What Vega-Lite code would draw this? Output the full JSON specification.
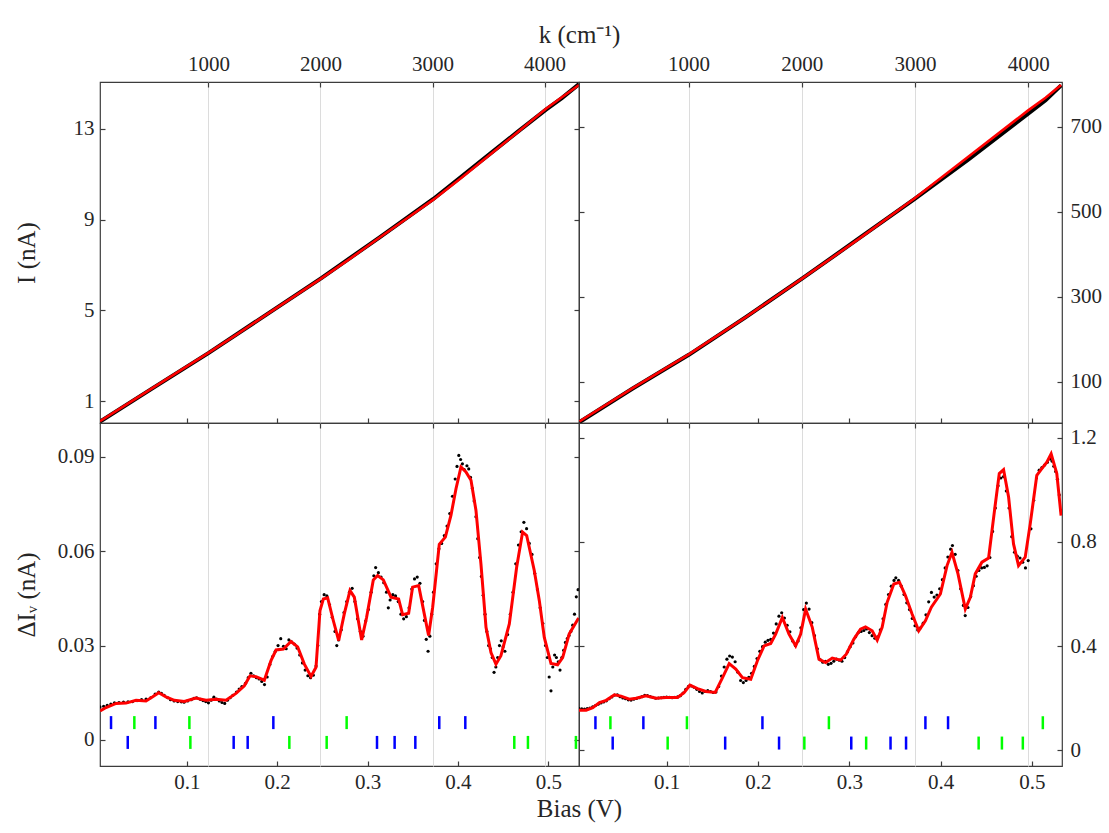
{
  "$schema": "https://vega.github.io/schema/vega-lite/v6.json",
  "background": "white",
  "padding": {"left": 13, "top": 21, "right": 5, "bottom": 5},
  "columns": 2,
  "spacing": 0,
  "bounds": "flush",
  "config": {
    "view": {"stroke": "#3c3c3c", "strokeWidth": 1.2},
    "axis": {
      "labelFont": "Liberation Serif", "titleFont": "Liberation Serif",
      "labelFontSize": 21, "titleFontSize": 25, "titleFontWeight": "normal",
      "labelColor": "#262626", "titleColor": "#262626",
      "tickColor": "#3c3c3c", "tickSize": -5, "tickWidth": 1.2,
      "domain": false, "grid": false, "labelPadding": 11, "format": ".2~f"
    }
  },
  "datasets": {
    "topL_fit": [
      {"V": 0.004, "I": 0.11}, {"V": 0.03, "I": 0.76}, {"V": 0.0624, "I": 1.58}, {"V": 0.093, "I": 2.35},
      {"V": 0.1239, "I": 3.12}, {"V": 0.155, "I": 3.93}, {"V": 0.1877, "I": 4.80}, {"V": 0.22, "I": 5.65},
      {"V": 0.2489, "I": 6.41}, {"V": 0.28, "I": 7.26}, {"V": 0.313, "I": 8.20}, {"V": 0.343, "I": 9.04},
      {"V": 0.3728, "I": 9.88}, {"V": 0.404, "I": 10.85}, {"V": 0.4347, "I": 11.84}, {"V": 0.466, "I": 12.85},
      {"V": 0.4971, "I": 13.88}, {"V": 0.515, "I": 14.40}, {"V": 0.534, "I": 14.94}
    ],
    "topL_data": [
      {"V": 0.004, "I": 0.09}, {"V": 0.0624, "I": 1.57}, {"V": 0.1239, "I": 3.11}, {"V": 0.1877, "I": 4.80},
      {"V": 0.2489, "I": 6.42}, {"V": 0.313, "I": 8.21}, {"V": 0.3728, "I": 9.91}, {"V": 0.404, "I": 10.90},
      {"V": 0.4347, "I": 11.88}, {"V": 0.466, "I": 12.87}, {"V": 0.4971, "I": 13.84}, {"V": 0.515, "I": 14.36},
      {"V": 0.534, "I": 14.98}
    ],
    "topR_fit": [
      {"V": 0.0045, "I": 6.8}, {"V": 0.0628, "I": 85}, {"V": 0.1247, "I": 165}, {"V": 0.1867, "I": 252},
      {"V": 0.2486, "I": 343}, {"V": 0.3105, "I": 436}, {"V": 0.3717, "I": 531.5}, {"V": 0.4307, "I": 630},
      {"V": 0.4956, "I": 737.6}, {"V": 0.515, "I": 768}, {"V": 0.532, "I": 798}
    ],
    "topR_data": [
      {"V": 0.0045, "I": 5}, {"V": 0.0628, "I": 84}, {"V": 0.1247, "I": 164}, {"V": 0.1867, "I": 252},
      {"V": 0.2486, "I": 343}, {"V": 0.3105, "I": 437}, {"V": 0.3717, "I": 530}, {"V": 0.4307, "I": 623},
      {"V": 0.4956, "I": 730}, {"V": 0.515, "I": 762}, {"V": 0.532, "I": 797}
    ],
    "botL_fit": [
      {"V": 0.0041, "D": 0.0092}, {"V": 0.0107, "D": 0.0103}, {"V": 0.0218, "D": 0.0116}, {"V": 0.0328, "D": 0.0117},
      {"V": 0.0439, "D": 0.0126}, {"V": 0.0549, "D": 0.0124}, {"V": 0.0623, "D": 0.0137}, {"V": 0.069, "D": 0.0150},
      {"V": 0.077, "D": 0.0137}, {"V": 0.0863, "D": 0.0126}, {"V": 0.0973, "D": 0.0122}, {"V": 0.110, "D": 0.0133},
      {"V": 0.1213, "D": 0.0126}, {"V": 0.1324, "D": 0.0129}, {"V": 0.1434, "D": 0.0126}, {"V": 0.1545, "D": 0.0148},
      {"V": 0.1637, "D": 0.0172}, {"V": 0.170, "D": 0.0204}, {"V": 0.1766, "D": 0.0201}, {"V": 0.1858, "D": 0.0190},
      {"V": 0.1932, "D": 0.0252}, {"V": 0.1988, "D": 0.0286}, {"V": 0.2069, "D": 0.0289}, {"V": 0.2153, "D": 0.0313},
      {"V": 0.2227, "D": 0.0296}, {"V": 0.2301, "D": 0.0241}, {"V": 0.2375, "D": 0.0202}, {"V": 0.243, "D": 0.0231},
      {"V": 0.2474, "D": 0.0411}, {"V": 0.2511, "D": 0.0448}, {"V": 0.2559, "D": 0.0452}, {"V": 0.2622, "D": 0.0379},
      {"V": 0.2681, "D": 0.0316}, {"V": 0.2743, "D": 0.0401}, {"V": 0.2806, "D": 0.0475}, {"V": 0.2854, "D": 0.0454},
      {"V": 0.2935, "D": 0.0318}, {"V": 0.2990, "D": 0.0390}, {"V": 0.3064, "D": 0.0509}, {"V": 0.3112, "D": 0.0523},
      {"V": 0.3175, "D": 0.0509}, {"V": 0.3260, "D": 0.0454}, {"V": 0.3344, "D": 0.0448}, {"V": 0.3389, "D": 0.0398},
      {"V": 0.3455, "D": 0.0403}, {"V": 0.3499, "D": 0.0486}, {"V": 0.3566, "D": 0.0491}, {"V": 0.3628, "D": 0.0401},
      {"V": 0.3676, "D": 0.0332}, {"V": 0.3721, "D": 0.0422}, {"V": 0.3794, "D": 0.0622}, {"V": 0.3861, "D": 0.0645},
      {"V": 0.3923, "D": 0.0714}, {"V": 0.3979, "D": 0.0799}, {"V": 0.4034, "D": 0.0868}, {"V": 0.4089, "D": 0.0852},
      {"V": 0.4145, "D": 0.0826}, {"V": 0.4200, "D": 0.0730}, {"V": 0.4255, "D": 0.0560}, {"V": 0.4311, "D": 0.0358},
      {"V": 0.4366, "D": 0.0278}, {"V": 0.4421, "D": 0.0241}, {"V": 0.4476, "D": 0.0268}, {"V": 0.4569, "D": 0.0369},
      {"V": 0.4650, "D": 0.0549}, {"V": 0.4716, "D": 0.0661}, {"V": 0.4761, "D": 0.0650}, {"V": 0.4845, "D": 0.0539},
      {"V": 0.4901, "D": 0.0443}, {"V": 0.4956, "D": 0.0326}, {"V": 0.5030, "D": 0.0243}, {"V": 0.5103, "D": 0.0239},
      {"V": 0.5159, "D": 0.0262}, {"V": 0.5232, "D": 0.0337}, {"V": 0.5336, "D": 0.0388}
    ],
    "botL_data": [
      {"V": 0.004, "D": 0.0105}, {"V": 0.008, "D": 0.0107}, {"V": 0.012, "D": 0.0110}, {"V": 0.016, "D": 0.0114}, {"V": 0.02, "D": 0.0118},
      {"V": 0.025, "D": 0.0119}, {"V": 0.03, "D": 0.0120}, {"V": 0.035, "D": 0.0121}, {"V": 0.04, "D": 0.0122}, {"V": 0.045, "D": 0.0125},
      {"V": 0.05, "D": 0.0128}, {"V": 0.055, "D": 0.0130}, {"V": 0.06, "D": 0.0134}, {"V": 0.065, "D": 0.0146}, {"V": 0.069, "D": 0.0152},
      {"V": 0.072, "D": 0.0148}, {"V": 0.075, "D": 0.0142}, {"V": 0.079, "D": 0.0134}, {"V": 0.082, "D": 0.0128}, {"V": 0.086, "D": 0.0124},
      {"V": 0.09, "D": 0.0122}, {"V": 0.094, "D": 0.0121}, {"V": 0.097, "D": 0.0120}, {"V": 0.101, "D": 0.0124}, {"V": 0.105, "D": 0.0128},
      {"V": 0.108, "D": 0.0132}, {"V": 0.111, "D": 0.0134}, {"V": 0.115, "D": 0.0129}, {"V": 0.118, "D": 0.0125}, {"V": 0.121, "D": 0.0122},
      {"V": 0.124, "D": 0.0118}, {"V": 0.127, "D": 0.0126}, {"V": 0.13, "D": 0.0136}, {"V": 0.133, "D": 0.0130}, {"V": 0.136, "D": 0.0124},
      {"V": 0.139, "D": 0.0119}, {"V": 0.142, "D": 0.0116}, {"V": 0.145, "D": 0.0126}, {"V": 0.148, "D": 0.0134}, {"V": 0.151, "D": 0.0142},
      {"V": 0.155, "D": 0.0152}, {"V": 0.158, "D": 0.0162}, {"V": 0.161, "D": 0.0170}, {"V": 0.165, "D": 0.0180}, {"V": 0.168, "D": 0.0198},
      {"V": 0.171, "D": 0.0212}, {"V": 0.174, "D": 0.0204}, {"V": 0.177, "D": 0.0198}, {"V": 0.18, "D": 0.0194}, {"V": 0.183, "D": 0.0186},
      {"V": 0.186, "D": 0.0176}, {"V": 0.189, "D": 0.0200}, {"V": 0.192, "D": 0.0240}, {"V": 0.195, "D": 0.0265}, {"V": 0.198, "D": 0.0282},
      {"V": 0.201, "D": 0.0300}, {"V": 0.204, "D": 0.0322}, {"V": 0.207, "D": 0.0298}, {"V": 0.21, "D": 0.0290}, {"V": 0.213, "D": 0.0318},
      {"V": 0.216, "D": 0.0312}, {"V": 0.219, "D": 0.0305}, {"V": 0.222, "D": 0.0292}, {"V": 0.225, "D": 0.0270}, {"V": 0.228, "D": 0.0245},
      {"V": 0.231, "D": 0.0222}, {"V": 0.234, "D": 0.0204}, {"V": 0.237, "D": 0.0198}, {"V": 0.24, "D": 0.0206}, {"V": 0.243, "D": 0.0235},
      {"V": 0.245, "D": 0.0300}, {"V": 0.247, "D": 0.0400}, {"V": 0.249, "D": 0.0440}, {"V": 0.252, "D": 0.0462}, {"V": 0.255, "D": 0.0458},
      {"V": 0.258, "D": 0.0430}, {"V": 0.261, "D": 0.0390}, {"V": 0.264, "D": 0.0345}, {"V": 0.266, "D": 0.0300}, {"V": 0.268, "D": 0.0318},
      {"V": 0.271, "D": 0.0350}, {"V": 0.274, "D": 0.0405}, {"V": 0.277, "D": 0.0440}, {"V": 0.28, "D": 0.0470}, {"V": 0.283, "D": 0.0482},
      {"V": 0.286, "D": 0.0440}, {"V": 0.289, "D": 0.0385}, {"V": 0.292, "D": 0.0345}, {"V": 0.295, "D": 0.0330}, {"V": 0.298, "D": 0.0378},
      {"V": 0.301, "D": 0.0415}, {"V": 0.304, "D": 0.0470}, {"V": 0.307, "D": 0.0522}, {"V": 0.309, "D": 0.0548}, {"V": 0.312, "D": 0.0532},
      {"V": 0.315, "D": 0.0518}, {"V": 0.318, "D": 0.0500}, {"V": 0.321, "D": 0.0470}, {"V": 0.323, "D": 0.0420}, {"V": 0.325, "D": 0.0445},
      {"V": 0.328, "D": 0.0462}, {"V": 0.331, "D": 0.0458}, {"V": 0.334, "D": 0.0440}, {"V": 0.337, "D": 0.0400}, {"V": 0.34, "D": 0.0385},
      {"V": 0.343, "D": 0.0392}, {"V": 0.346, "D": 0.0420}, {"V": 0.349, "D": 0.0480}, {"V": 0.352, "D": 0.0512}, {"V": 0.355, "D": 0.0518},
      {"V": 0.358, "D": 0.0498}, {"V": 0.361, "D": 0.0440}, {"V": 0.363, "D": 0.0380}, {"V": 0.365, "D": 0.0320}, {"V": 0.367, "D": 0.0282},
      {"V": 0.369, "D": 0.0330}, {"V": 0.371, "D": 0.0400}, {"V": 0.373, "D": 0.0470}, {"V": 0.376, "D": 0.0560}, {"V": 0.379, "D": 0.0608},
      {"V": 0.382, "D": 0.0625}, {"V": 0.385, "D": 0.0650}, {"V": 0.388, "D": 0.0680}, {"V": 0.391, "D": 0.0720}, {"V": 0.394, "D": 0.0775},
      {"V": 0.397, "D": 0.0830}, {"V": 0.399, "D": 0.0870}, {"V": 0.401, "D": 0.0905}, {"V": 0.403, "D": 0.0892}, {"V": 0.405, "D": 0.0878},
      {"V": 0.407, "D": 0.0860}, {"V": 0.41, "D": 0.0872}, {"V": 0.412, "D": 0.0862}, {"V": 0.414, "D": 0.0835}, {"V": 0.416, "D": 0.0800},
      {"V": 0.418, "D": 0.0760}, {"V": 0.42, "D": 0.0710}, {"V": 0.422, "D": 0.0640}, {"V": 0.424, "D": 0.0580}, {"V": 0.426, "D": 0.0520},
      {"V": 0.428, "D": 0.0460}, {"V": 0.43, "D": 0.0400}, {"V": 0.432, "D": 0.0345}, {"V": 0.434, "D": 0.0300}, {"V": 0.436, "D": 0.0290},
      {"V": 0.438, "D": 0.0262}, {"V": 0.44, "D": 0.0215}, {"V": 0.442, "D": 0.0232}, {"V": 0.444, "D": 0.0262}, {"V": 0.446, "D": 0.0300},
      {"V": 0.448, "D": 0.0315}, {"V": 0.45, "D": 0.0296}, {"V": 0.452, "D": 0.0282}, {"V": 0.455, "D": 0.0335}, {"V": 0.458, "D": 0.0400},
      {"V": 0.461, "D": 0.0470}, {"V": 0.464, "D": 0.0560}, {"V": 0.467, "D": 0.0620}, {"V": 0.47, "D": 0.0662}, {"V": 0.473, "D": 0.0692},
      {"V": 0.476, "D": 0.0672}, {"V": 0.479, "D": 0.0625}, {"V": 0.482, "D": 0.0590}, {"V": 0.485, "D": 0.0530}, {"V": 0.488, "D": 0.0478},
      {"V": 0.491, "D": 0.0420}, {"V": 0.494, "D": 0.0370}, {"V": 0.497, "D": 0.0300}, {"V": 0.499, "D": 0.0262}, {"V": 0.501, "D": 0.0200},
      {"V": 0.503, "D": 0.0156}, {"V": 0.505, "D": 0.0232}, {"V": 0.507, "D": 0.0270}, {"V": 0.509, "D": 0.0262}, {"V": 0.511, "D": 0.0248},
      {"V": 0.513, "D": 0.0222}, {"V": 0.515, "D": 0.0262}, {"V": 0.517, "D": 0.0285}, {"V": 0.519, "D": 0.0310}, {"V": 0.521, "D": 0.0322},
      {"V": 0.523, "D": 0.0332}, {"V": 0.525, "D": 0.0345}, {"V": 0.527, "D": 0.0365}, {"V": 0.529, "D": 0.0400}, {"V": 0.531, "D": 0.0455},
      {"V": 0.533, "D": 0.0478}
    ],
    "botR_fit": [
      {"V": 0.0038, "D": 0.154}, {"V": 0.0118, "D": 0.154}, {"V": 0.0191, "D": 0.164}, {"V": 0.0264, "D": 0.183},
      {"V": 0.0337, "D": 0.192}, {"V": 0.0428, "D": 0.213}, {"V": 0.0500, "D": 0.208}, {"V": 0.0592, "D": 0.196},
      {"V": 0.0664, "D": 0.200}, {"V": 0.0774, "D": 0.209}, {"V": 0.0883, "D": 0.200}, {"V": 0.0992, "D": 0.203},
      {"V": 0.1120, "D": 0.203}, {"V": 0.1193, "D": 0.222}, {"V": 0.1255, "D": 0.250}, {"V": 0.1338, "D": 0.237},
      {"V": 0.1430, "D": 0.226}, {"V": 0.1532, "D": 0.222}, {"V": 0.1612, "D": 0.279}, {"V": 0.1685, "D": 0.333},
      {"V": 0.1757, "D": 0.312}, {"V": 0.1830, "D": 0.279}, {"V": 0.1921, "D": 0.273}, {"V": 0.1994, "D": 0.344},
      {"V": 0.2067, "D": 0.401}, {"V": 0.2140, "D": 0.410}, {"V": 0.2194, "D": 0.446}, {"V": 0.2267, "D": 0.510},
      {"V": 0.2340, "D": 0.446}, {"V": 0.2413, "D": 0.401}, {"V": 0.2468, "D": 0.446}, {"V": 0.2522, "D": 0.542},
      {"V": 0.2595, "D": 0.472}, {"V": 0.2668, "D": 0.350}, {"V": 0.2741, "D": 0.337}, {"V": 0.2814, "D": 0.354},
      {"V": 0.2905, "D": 0.346}, {"V": 0.2967, "D": 0.369}, {"V": 0.3051, "D": 0.427}, {"V": 0.3123, "D": 0.465},
      {"V": 0.3178, "D": 0.474}, {"V": 0.3251, "D": 0.459}, {"V": 0.3306, "D": 0.423}, {"V": 0.3360, "D": 0.472},
      {"V": 0.3415, "D": 0.568}, {"V": 0.3488, "D": 0.638}, {"V": 0.3550, "D": 0.645}, {"V": 0.3615, "D": 0.594},
      {"V": 0.3688, "D": 0.523}, {"V": 0.3761, "D": 0.459}, {"V": 0.3834, "D": 0.497}, {"V": 0.3899, "D": 0.549},
      {"V": 0.3998, "D": 0.600}, {"V": 0.4071, "D": 0.709}, {"V": 0.4125, "D": 0.760}, {"V": 0.4191, "D": 0.677},
      {"V": 0.4271, "D": 0.542}, {"V": 0.4326, "D": 0.587}, {"V": 0.4380, "D": 0.677}, {"V": 0.4453, "D": 0.722},
      {"V": 0.4526, "D": 0.738}, {"V": 0.4591, "D": 0.921}, {"V": 0.4643, "D": 1.062}, {"V": 0.4690, "D": 1.077},
      {"V": 0.4745, "D": 0.972}, {"V": 0.4799, "D": 0.792}, {"V": 0.4854, "D": 0.709}, {"V": 0.4927, "D": 0.741},
      {"V": 0.4982, "D": 0.869}, {"V": 0.5054, "D": 1.055}, {"V": 0.5109, "D": 1.081}, {"V": 0.5164, "D": 1.106},
      {"V": 0.5211, "D": 1.138}, {"V": 0.5273, "D": 1.062}, {"V": 0.5320, "D": 0.901}
    ],
    "botR_data": [
      {"V": 0.004, "D": 0.160}, {"V": 0.007, "D": 0.159}, {"V": 0.010, "D": 0.158}, {"V": 0.013, "D": 0.160}, {"V": 0.016, "D": 0.162},
      {"V": 0.019, "D": 0.167}, {"V": 0.022, "D": 0.172}, {"V": 0.025, "D": 0.177}, {"V": 0.028, "D": 0.182}, {"V": 0.031, "D": 0.186},
      {"V": 0.034, "D": 0.190}, {"V": 0.037, "D": 0.198}, {"V": 0.040, "D": 0.205}, {"V": 0.043, "D": 0.212}, {"V": 0.046, "D": 0.213},
      {"V": 0.049, "D": 0.206}, {"V": 0.052, "D": 0.201}, {"V": 0.055, "D": 0.198}, {"V": 0.058, "D": 0.194}, {"V": 0.061, "D": 0.193},
      {"V": 0.064, "D": 0.196}, {"V": 0.067, "D": 0.199}, {"V": 0.070, "D": 0.202}, {"V": 0.073, "D": 0.206}, {"V": 0.076, "D": 0.211},
      {"V": 0.079, "D": 0.210}, {"V": 0.082, "D": 0.206}, {"V": 0.085, "D": 0.203}, {"V": 0.088, "D": 0.200}, {"V": 0.091, "D": 0.201},
      {"V": 0.094, "D": 0.202}, {"V": 0.097, "D": 0.203}, {"V": 0.100, "D": 0.204}, {"V": 0.103, "D": 0.203}, {"V": 0.106, "D": 0.202},
      {"V": 0.109, "D": 0.203}, {"V": 0.112, "D": 0.205}, {"V": 0.115, "D": 0.210}, {"V": 0.118, "D": 0.220}, {"V": 0.121, "D": 0.234},
      {"V": 0.124, "D": 0.246}, {"V": 0.127, "D": 0.247}, {"V": 0.130, "D": 0.242}, {"V": 0.133, "D": 0.234}, {"V": 0.136, "D": 0.226},
      {"V": 0.139, "D": 0.220}, {"V": 0.142, "D": 0.226}, {"V": 0.145, "D": 0.229}, {"V": 0.148, "D": 0.226}, {"V": 0.151, "D": 0.222},
      {"V": 0.154, "D": 0.224}, {"V": 0.157, "D": 0.245}, {"V": 0.160, "D": 0.285}, {"V": 0.163, "D": 0.320}, {"V": 0.166, "D": 0.350},
      {"V": 0.169, "D": 0.362}, {"V": 0.172, "D": 0.358}, {"V": 0.175, "D": 0.340}, {"V": 0.178, "D": 0.300}, {"V": 0.181, "D": 0.268},
      {"V": 0.184, "D": 0.260}, {"V": 0.187, "D": 0.268}, {"V": 0.190, "D": 0.280}, {"V": 0.193, "D": 0.296}, {"V": 0.196, "D": 0.322},
      {"V": 0.199, "D": 0.352}, {"V": 0.202, "D": 0.380}, {"V": 0.205, "D": 0.398}, {"V": 0.208, "D": 0.415}, {"V": 0.211, "D": 0.422},
      {"V": 0.214, "D": 0.426}, {"V": 0.217, "D": 0.450}, {"V": 0.220, "D": 0.485}, {"V": 0.223, "D": 0.515}, {"V": 0.226, "D": 0.528},
      {"V": 0.229, "D": 0.508}, {"V": 0.232, "D": 0.480}, {"V": 0.235, "D": 0.455}, {"V": 0.238, "D": 0.420}, {"V": 0.241, "D": 0.402},
      {"V": 0.244, "D": 0.420}, {"V": 0.247, "D": 0.470}, {"V": 0.250, "D": 0.540}, {"V": 0.253, "D": 0.565}, {"V": 0.256, "D": 0.542},
      {"V": 0.259, "D": 0.490}, {"V": 0.262, "D": 0.440}, {"V": 0.265, "D": 0.390}, {"V": 0.268, "D": 0.348}, {"V": 0.271, "D": 0.338},
      {"V": 0.274, "D": 0.342}, {"V": 0.277, "D": 0.330}, {"V": 0.280, "D": 0.334}, {"V": 0.283, "D": 0.342}, {"V": 0.286, "D": 0.350},
      {"V": 0.289, "D": 0.346}, {"V": 0.292, "D": 0.342}, {"V": 0.295, "D": 0.356}, {"V": 0.298, "D": 0.378}, {"V": 0.301, "D": 0.398},
      {"V": 0.304, "D": 0.412}, {"V": 0.307, "D": 0.436}, {"V": 0.310, "D": 0.452}, {"V": 0.313, "D": 0.456}, {"V": 0.316, "D": 0.460},
      {"V": 0.319, "D": 0.466}, {"V": 0.322, "D": 0.452}, {"V": 0.325, "D": 0.440}, {"V": 0.328, "D": 0.430}, {"V": 0.331, "D": 0.436},
      {"V": 0.334, "D": 0.462}, {"V": 0.337, "D": 0.505}, {"V": 0.340, "D": 0.560}, {"V": 0.343, "D": 0.598}, {"V": 0.346, "D": 0.630},
      {"V": 0.349, "D": 0.652}, {"V": 0.351, "D": 0.662}, {"V": 0.354, "D": 0.652}, {"V": 0.357, "D": 0.630}, {"V": 0.360, "D": 0.598},
      {"V": 0.363, "D": 0.566}, {"V": 0.366, "D": 0.540}, {"V": 0.369, "D": 0.506}, {"V": 0.372, "D": 0.478}, {"V": 0.375, "D": 0.462},
      {"V": 0.378, "D": 0.470}, {"V": 0.381, "D": 0.488}, {"V": 0.384, "D": 0.520}, {"V": 0.387, "D": 0.570}, {"V": 0.390, "D": 0.606},
      {"V": 0.393, "D": 0.588}, {"V": 0.396, "D": 0.596}, {"V": 0.399, "D": 0.620}, {"V": 0.402, "D": 0.655}, {"V": 0.405, "D": 0.700},
      {"V": 0.408, "D": 0.742}, {"V": 0.411, "D": 0.772}, {"V": 0.413, "D": 0.786}, {"V": 0.416, "D": 0.752}, {"V": 0.419, "D": 0.690},
      {"V": 0.422, "D": 0.620}, {"V": 0.425, "D": 0.556}, {"V": 0.427, "D": 0.517}, {"V": 0.430, "D": 0.548}, {"V": 0.433, "D": 0.590},
      {"V": 0.436, "D": 0.632}, {"V": 0.439, "D": 0.668}, {"V": 0.442, "D": 0.690}, {"V": 0.445, "D": 0.700}, {"V": 0.448, "D": 0.702},
      {"V": 0.451, "D": 0.708}, {"V": 0.454, "D": 0.740}, {"V": 0.457, "D": 0.840}, {"V": 0.460, "D": 0.930}, {"V": 0.463, "D": 1.015},
      {"V": 0.466, "D": 1.045}, {"V": 0.469, "D": 1.050}, {"V": 0.472, "D": 0.995}, {"V": 0.475, "D": 0.930}, {"V": 0.478, "D": 0.820},
      {"V": 0.481, "D": 0.760}, {"V": 0.484, "D": 0.745}, {"V": 0.487, "D": 0.738}, {"V": 0.490, "D": 0.722}, {"V": 0.493, "D": 0.700},
      {"V": 0.496, "D": 0.728}, {"V": 0.499, "D": 0.850}, {"V": 0.502, "D": 0.960}, {"V": 0.505, "D": 1.045}, {"V": 0.508, "D": 1.075},
      {"V": 0.511, "D": 1.085}, {"V": 0.514, "D": 1.095}, {"V": 0.517, "D": 1.105}, {"V": 0.520, "D": 1.118}, {"V": 0.522, "D": 1.110},
      {"V": 0.524, "D": 1.090}, {"V": 0.526, "D": 1.070}, {"V": 0.528, "D": 1.040}, {"V": 0.530, "D": 0.980}, {"V": 0.532, "D": 0.920}
    ],
    "ticksL": [
      {"V": 0.0162, "D": 0.0055, "set": "A"}, {"V": 0.0420, "D": 0.0055, "set": "B"}, {"V": 0.0653, "D": 0.0055, "set": "A"},
      {"V": 0.1029, "D": 0.0055, "set": "B"}, {"V": 0.1958, "D": 0.0055, "set": "A"}, {"V": 0.2769, "D": 0.0055, "set": "B"},
      {"V": 0.3794, "D": 0.0055, "set": "A"}, {"V": 0.4082, "D": 0.0055, "set": "A"},
      {"V": 0.0347, "D": -0.0008, "set": "A"}, {"V": 0.1040, "D": -0.0008, "set": "B"}, {"V": 0.1519, "D": -0.0008, "set": "A"},
      {"V": 0.1674, "D": -0.0008, "set": "A"}, {"V": 0.2135, "D": -0.0008, "set": "B"}, {"V": 0.2548, "D": -0.0008, "set": "B"},
      {"V": 0.3105, "D": -0.0008, "set": "A"}, {"V": 0.3300, "D": -0.0008, "set": "A"}, {"V": 0.3529, "D": -0.0008, "set": "A"},
      {"V": 0.4624, "D": -0.0008, "set": "B"}, {"V": 0.4775, "D": -0.0008, "set": "B"}, {"V": 0.5306, "D": -0.0008, "set": "B"}
    ],
    "ticksR": [
      {"V": 0.0220, "D": 0.106, "set": "A"}, {"V": 0.0384, "D": 0.106, "set": "B"}, {"V": 0.0745, "D": 0.106, "set": "A"},
      {"V": 0.1222, "D": 0.106, "set": "B"}, {"V": 0.2049, "D": 0.106, "set": "A"}, {"V": 0.2777, "D": 0.106, "set": "B"},
      {"V": 0.3834, "D": 0.106, "set": "A"}, {"V": 0.4082, "D": 0.106, "set": "A"}, {"V": 0.5120, "D": 0.106, "set": "B"},
      {"V": 0.0409, "D": 0.028, "set": "A"}, {"V": 0.1011, "D": 0.028, "set": "B"}, {"V": 0.1641, "D": 0.028, "set": "A"},
      {"V": 0.2231, "D": 0.028, "set": "A"}, {"V": 0.2508, "D": 0.028, "set": "B"}, {"V": 0.3022, "D": 0.028, "set": "A"},
      {"V": 0.3185, "D": 0.028, "set": "B"}, {"V": 0.3452, "D": 0.028, "set": "A"}, {"V": 0.3622, "D": 0.028, "set": "A"},
      {"V": 0.4417, "D": 0.028, "set": "B"}, {"V": 0.4672, "D": 0.028, "set": "B"}, {"V": 0.4901, "D": 0.028, "set": "B"}
    ]
  },
  "concat": [
    {
      "width": 479, "height": 341,
      "layer": [
        {
          "data": {"name": "topL_data"},
          "mark": {"type": "line", "color": "black", "strokeWidth": 4, "clip": true},
          "encoding": {
            "x": {"field": "V", "type": "quantitative", "scale": {"domain": [0.004, 0.534], "nice": false, "zero": false},
                  "axis": {"orient": "bottom", "values": [0.1, 0.2, 0.3, 0.4, 0.5], "labels": false, "title": null, "minExtent": 0, "maxExtent": 0}},
            "y": {"field": "I", "type": "quantitative", "scale": {"domain": [0.03, 15.07], "nice": false, "zero": false},
                  "axis": {"orient": "left", "values": [1, 5, 9, 13], "title": "I (nA)", "minExtent": 58, "maxExtent": 58, "titlePadding": 3}}
          }
        },
        {
          "data": {"name": "topL_fit"},
          "mark": {"type": "line", "color": "#ff0000", "strokeWidth": 2.6, "clip": true},
          "encoding": {
            "x": {"field": "V", "type": "quantitative", "scale": {"domain": [0.004, 0.534], "nice": false, "zero": false},
                  "axis": {"orient": "top", "values": [0.123984, 0.247968, 0.371952, 0.495937], "labelExpr": "format(datum.value*8065.54, '.0f')",
                           "grid": true, "gridColor": "#dcdcdc", "gridWidth": 1, "title": "k (cm⁻¹)", "titleX": 479,
                           "labelPadding": 13, "minExtent": 30, "maxExtent": 30, "titlePadding": 5}},
            "y": {"field": "I", "type": "quantitative", "scale": {"domain": [0.03, 15.07], "nice": false, "zero": false},
                  "axis": {"orient": "right", "values": [1, 5, 9, 13], "labels": false, "title": null, "minExtent": 0, "maxExtent": 0}}
          }
        }
      ]
    },
    {
      "width": 483, "height": 341,
      "layer": [
        {
          "data": {"name": "topR_data"},
          "mark": {"type": "line", "color": "black", "strokeWidth": 4, "clip": true},
          "encoding": {
            "x": {"field": "V", "type": "quantitative", "scale": {"domain": [0.004, 0.533], "nice": false, "zero": false},
                  "axis": {"orient": "bottom", "values": [0.1, 0.2, 0.3, 0.4, 0.5], "labels": false, "title": null, "minExtent": 0, "maxExtent": 0}},
            "y": {"field": "I", "type": "quantitative", "scale": {"domain": [3, 805], "nice": false, "zero": false},
                  "axis": {"orient": "right", "values": [100, 300, 500, 700], "format": "d", "title": null, "labelPadding": 13}}
          }
        },
        {
          "data": {"name": "topR_fit"},
          "mark": {"type": "line", "color": "#ff0000", "strokeWidth": 2.6, "clip": true},
          "encoding": {
            "x": {"field": "V", "type": "quantitative", "scale": {"domain": [0.004, 0.533], "nice": false, "zero": false},
                  "axis": {"orient": "top", "values": [0.123984, 0.247968, 0.371952, 0.495937], "labelExpr": "format(datum.value*8065.54, '.0f')",
                           "grid": true, "gridColor": "#dcdcdc", "gridWidth": 1, "title": null,
                           "labelPadding": 13, "minExtent": 30, "maxExtent": 30}},
            "y": {"field": "I", "type": "quantitative", "scale": {"domain": [3, 805], "nice": false, "zero": false},
                  "axis": {"orient": "left", "values": [100, 300, 500, 700], "labels": false, "title": null, "minExtent": 0, "maxExtent": 0}}
          }
        }
      ]
    },
    {
      "width": 479, "height": 343,
      "layer": [
        {
          "data": {"name": "botL_data"},
          "mark": {"type": "circle", "color": "black", "size": 10, "opacity": 1, "clip": true},
          "encoding": {
            "x": {"field": "V", "type": "quantitative", "scale": {"domain": [0.004, 0.534], "nice": false, "zero": false},
                  "axis": {"orient": "bottom", "values": [0.1, 0.2, 0.3, 0.4, 0.5], "title": "Bias (V)", "titleX": 479, "titlePadding": 4, "labelPadding": 10}},
            "y": {"field": "D", "type": "quantitative", "scale": {"domain": [-0.0083, 0.1008], "nice": false, "zero": false},
                  "axis": {"orient": "left", "values": [0, 0.03, 0.06, 0.09], "title": "ΔIᵥ (nA)", "minExtent": 58, "maxExtent": 58, "titlePadding": 3}}
          }
        },
        {
          "data": {"name": "botL_fit"},
          "mark": {"type": "line", "color": "#ff0000", "strokeWidth": 3, "clip": true},
          "encoding": {
            "x": {"field": "V", "type": "quantitative", "scale": {"domain": [0.004, 0.534], "nice": false, "zero": false},
                  "axis": {"orient": "top", "values": [0.123984, 0.247968, 0.371952, 0.495937], "labels": false,
                           "grid": true, "gridColor": "#dcdcdc", "gridWidth": 1, "title": null, "minExtent": 0, "maxExtent": 0}},
            "y": {"field": "D", "type": "quantitative", "scale": {"domain": [-0.0083, 0.1008], "nice": false, "zero": false},
                  "axis": {"orient": "right", "values": [0, 0.03, 0.06, 0.09], "labels": false, "title": null, "minExtent": 0, "maxExtent": 0}}
          }
        },
        {
          "data": {"name": "ticksL"},
          "mark": {"type": "tick", "orient": "vertical", "size": 13, "thickness": 2.5, "opacity": 1},
          "encoding": {
            "x": {"field": "V", "type": "quantitative", "axis": null},
            "y": {"field": "D", "type": "quantitative", "axis": null},
            "color": {"field": "set", "type": "nominal", "scale": {"domain": ["A", "B"], "range": ["#0000ff", "#00ff00"]}, "legend": null}
          }
        }
      ]
    },
    {
      "width": 483, "height": 343,
      "layer": [
        {
          "data": {"name": "botR_data"},
          "mark": {"type": "circle", "color": "black", "size": 10, "opacity": 1, "clip": true},
          "encoding": {
            "x": {"field": "V", "type": "quantitative", "scale": {"domain": [0.004, 0.533], "nice": false, "zero": false},
                  "axis": {"orient": "bottom", "values": [0.1, 0.2, 0.3, 0.4, 0.5], "title": null, "labelPadding": 10}},
            "y": {"field": "D", "type": "quantitative", "scale": {"domain": [-0.060, 1.256], "nice": false, "zero": false},
                  "axis": {"orient": "right", "values": [0, 0.4, 0.8, 1.2], "title": null, "labelPadding": 13}}
          }
        },
        {
          "data": {"name": "botR_fit"},
          "mark": {"type": "line", "color": "#ff0000", "strokeWidth": 3, "clip": true},
          "encoding": {
            "x": {"field": "V", "type": "quantitative", "scale": {"domain": [0.004, 0.533], "nice": false, "zero": false},
                  "axis": {"orient": "top", "values": [0.123984, 0.247968, 0.371952, 0.495937], "labels": false,
                           "grid": true, "gridColor": "#dcdcdc", "gridWidth": 1, "title": null, "minExtent": 0, "maxExtent": 0}},
            "y": {"field": "D", "type": "quantitative", "scale": {"domain": [-0.060, 1.256], "nice": false, "zero": false},
                  "axis": {"orient": "left", "values": [0, 0.4, 0.8, 1.2], "labels": false, "title": null, "minExtent": 0, "maxExtent": 0}}
          }
        },
        {
          "data": {"name": "ticksR"},
          "mark": {"type": "tick", "orient": "vertical", "size": 13, "thickness": 2.5, "opacity": 1},
          "encoding": {
            "x": {"field": "V", "type": "quantitative", "axis": null},
            "y": {"field": "D", "type": "quantitative", "axis": null},
            "color": {"field": "set", "type": "nominal", "scale": {"domain": ["A", "B"], "range": ["#0000ff", "#00ff00"]}, "legend": null}
          }
        }
      ]
    }
  ]
}
